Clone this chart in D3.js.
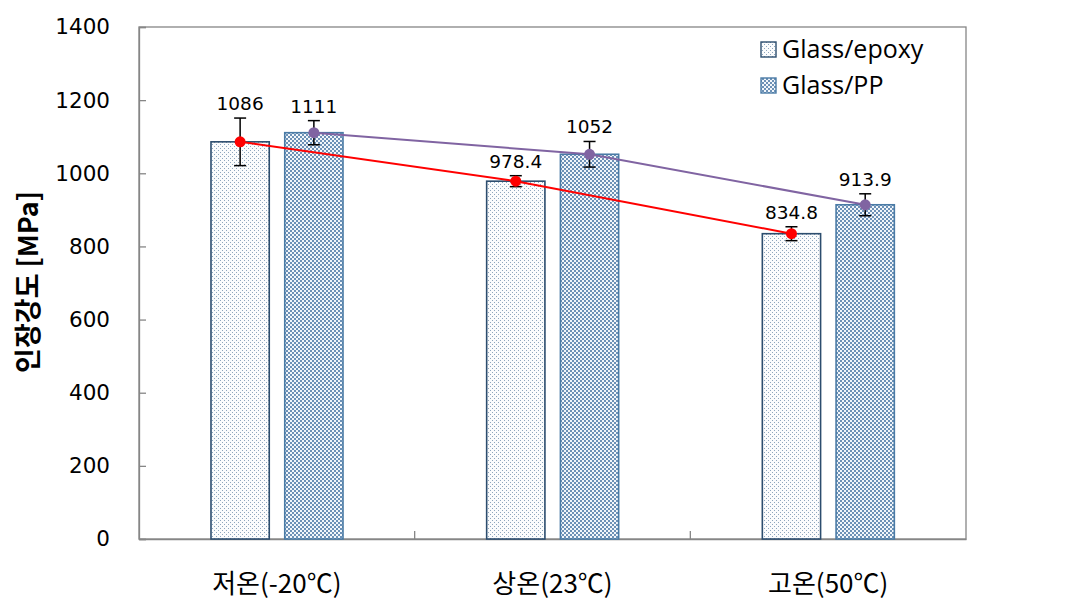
<!DOCTYPE html>
<html><head><meta charset="utf-8">
<script src="https://cdn.jsdelivr.net/npm/d3@7"></script>
<style>body{margin:0;background:#fff}svg{display:block}</style>
</head><body>
<svg id="c" width="1065" height="608"></svg>
<script>
const categories = ["저온(-20℃)", "상온(23℃)", "고온(50℃)"];
const seriesNames = ["Glass/epoxy", "Glass/PP"];
const epoxyValues = [1086, 978.4, 834.8];
const ppValues = [1111, 1052, 913.9];
const epoxyErrors = [65, 15, 19];
const ppErrors = [33, 35, 30];
const epoxyLabels = ["1086", "978.4", "834.8"];
const ppLabels = ["1111", "1052", "913.9"];
const yTicks = [0, 200, 400, 600, 800, 1000, 1200, 1400];

const svg = d3.select("#c");
const L = 139, R = 966, T = 27, B = 539;
const y = d3.scaleLinear().domain([0, 1400]).range([B, T]);
const x = d3.scaleBand().domain(categories).range([L, R]).padding(0);
const xi = d3.scaleBand().domain(seriesNames).range([72, 204]).paddingInner(0.21);

const defs = svg.append("defs");
const p1 = defs.append("pattern").attr("id","pe").attr("patternUnits","userSpaceOnUse").attr("width",4).attr("height",4);
p1.append("rect").attr("width",4).attr("height",4).attr("fill","#fbfcfd");
p1.append("rect").attr("x",0).attr("y",0).attr("width",1).attr("height",1).attr("fill","#8fa6bd");
p1.append("rect").attr("x",2).attr("y",2).attr("width",1).attr("height",1).attr("fill","#8fa6bd");
const p2 = defs.append("pattern").attr("id","pp").attr("patternUnits","userSpaceOnUse").attr("width",4).attr("height",4);
p2.append("rect").attr("width",4).attr("height",4).attr("fill","#f2f6fa");
p2.append("rect").attr("x",0).attr("y",0).attr("width",2).attr("height",2).attr("fill","#6d91b6");
p2.append("rect").attr("x",2).attr("y",2).attr("width",2).attr("height",2).attr("fill","#6d91b6");

// plot frame
svg.append("rect").attr("x",L).attr("y",T).attr("width",R-L).attr("height",B-T)
  .attr("fill","none").attr("stroke","#868686").attr("stroke-width",1.3);

// y axis
const yAxis = d3.axisLeft(y).tickValues(yTicks).tickSize(-7).tickPadding(29).tickFormat(d3.format("d"));
const gy = svg.append("g").attr("transform",`translate(${L},0)`).call(yAxis);
gy.select(".domain").attr("stroke","#868686").attr("stroke-width",1.3);
gy.selectAll(".tick line").attr("stroke","#868686").attr("stroke-width",1.3);
gy.selectAll(".tick text").attr("font-family","DejaVu Sans, Verdana").attr("font-size",21.5).attr("fill","#000");

// x axis
const xAxis = d3.axisBottom(x).tickValues(categories).tickSize(0).tickPadding(36);
const gx = svg.append("g").attr("transform",`translate(0,${B})`).call(xAxis);
gx.select(".domain").attr("stroke","#868686").attr("stroke-width",1.3);
gx.selectAll(".tick text").attr("font-family","Noto Sans CJK KR").attr("font-size",26).attr("fill","#000");
// category separator ticks
svg.selectAll(".sep").data(categories.slice(1)).enter().append("line")
  .attr("x1",d=>x(d)).attr("x2",d=>x(d)).attr("y1",B).attr("y2",B-8)
  .attr("stroke","#868686").attr("stroke-width",1.3);

const data = [
  {name: seriesNames[0], values: epoxyValues, errors: epoxyErrors, labels: epoxyLabels, fill:"url(#pe)", stroke:"#2c4d6e", line:"#ff0000"},
  {name: seriesNames[1], values: ppValues, errors: ppErrors, labels: ppLabels, fill:"url(#pp)", stroke:"#4a7ba6", line:"#8064a2"}
];
const cx = (s,i) => x(categories[i]) + xi(s.name) + xi.bandwidth()/2;

data.forEach(s => {
  svg.append("g").selectAll("rect").data(s.values).enter().append("rect")
    .attr("x",(d,i)=>x(categories[i])+xi(s.name)).attr("width",xi.bandwidth())
    .attr("y",d=>y(d)).attr("height",d=>B-y(d))
    .attr("fill",s.fill).attr("stroke",s.stroke).attr("stroke-width",1.6);
});
data.forEach(s => {
  const line = d3.line().x((d,i)=>cx(s,i)).y(d=>y(d));
  svg.append("path").attr("d",line(s.values)).attr("fill","none").attr("stroke",s.line).attr("stroke-width",2);
});
data.forEach(s => {
  const g = svg.append("g");
  s.values.forEach((v,i) => {
    const c = cx(s,i), e = s.errors[i];
    g.append("line").attr("x1",c).attr("x2",c).attr("y1",y(v+e)).attr("y2",y(v-e)).attr("stroke","#000").attr("stroke-width",1.5);
    [v+e, v-e].forEach(w => g.append("line").attr("x1",c-6).attr("x2",c+6).attr("y1",y(w)).attr("y2",y(w)).attr("stroke","#000").attr("stroke-width",1.5));
    g.append("circle").attr("cx",c).attr("cy",y(v)).attr("r",5.5).attr("fill",s.line);
    g.append("text").attr("x",c).attr("y",y(v+e)-8).attr("text-anchor","middle")
      .attr("font-family","DejaVu Sans, Verdana").attr("font-size",18.5).text(s.labels[i]);
  });
});

// legend
const lg = svg.append("g");
data.forEach((s,i) => {
  const yy = 50 + i*36;
  lg.append("rect").attr("x",761).attr("y",yy-8).attr("width",15).attr("height",15)
    .attr("fill",s.fill).attr("stroke",s.stroke).attr("stroke-width",1.4);
  lg.append("text").attr("x",782).attr("y",yy+8).attr("font-family","Open Sans").attr("font-size",25).text(s.name);
});

// y title
svg.append("text").attr("transform","translate(38,282) rotate(-90)").attr("text-anchor","middle")
  .attr("font-family","Noto Sans CJK KR").attr("font-weight","bold").attr("font-size",27).text("인장강도 [MPa]");
</script>
</body></html>
